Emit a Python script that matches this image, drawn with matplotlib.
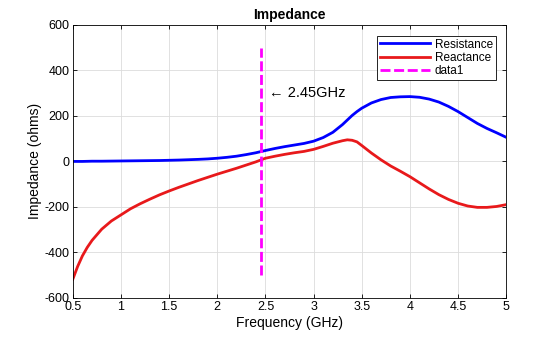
import matplotlib.pyplot as plt

plt.rcParams['font.family'] = ['Liberation Sans', 'DejaVu Sans']
plt.rcParams['axes.unicode_minus'] = False

# frequency samples (GHz) and impedance parts (ohms)
freq = [0.5, 0.55, 0.6, 0.65, 0.7, 0.8, 0.9, 1.0, 1.1, 1.2, 1.3, 1.4, 1.5,
        1.6, 1.7, 1.8, 1.9, 2.0, 2.1, 2.2, 2.3, 2.4, 2.5, 2.6, 2.7, 2.8,
        2.9, 3.0, 3.1, 3.2, 3.3, 3.35, 3.4, 3.45, 3.5, 3.6, 3.7, 3.8, 3.9,
        4.0, 4.1, 4.2, 4.3, 4.4, 4.5, 4.6, 4.7, 4.8, 4.9, 5.0]
resistance = [0, 0, 0, 0.5, 1, 1, 1.5, 2, 2.5, 3, 3.5, 4, 5,
              6, 7.5, 9, 11, 14, 18, 23, 30, 38, 48, 57, 65, 72,
              79, 89, 105, 128, 162, 182, 202, 219, 234, 257, 272, 281, 284,
              285, 282, 274, 261, 242, 219, 193, 167, 145, 126, 106]
reactance = [-518, -462, -415, -378, -347, -298, -262, -235, -208, -186,
             -166, -147, -130, -114, -99, -84, -70, -56, -43, -30, -16, -2,
             14, 23, 31, 38, 44, 53, 66, 80, 91, 95, 93, 86, 70, 37, 7, -20,
             -43, -67, -94, -121, -146, -167, -184, -196, -202, -202, -198,
             -190]

marker_freq = 2.45
marker_span = [-500, 500]

fig = plt.figure(figsize=(5.6, 3.37), dpi=100)
ax = fig.add_axes([0.130, 0.116, 0.774, 0.810])

ax.plot(freq, resistance, color='#0000ff', lw=2, label='Resistance')
ax.plot(freq, reactance, color='#e8191b', lw=2, label='Reactance')
ax.plot([marker_freq, marker_freq], marker_span, color='#ff00ff', lw=2,
        ls=(0, (3.6, 1.3)), label='data1')
ax.text(marker_freq + 0.09, 300, '\u2190 2.45GHz', fontsize=10.5,
        va='center', ha='left')

ax.set_xlim(0.5, 5)
ax.set_ylim(-600, 600)
ax.set_xticks([0.5, 1, 1.5, 2, 2.5, 3, 3.5, 4, 4.5, 5])
ax.set_xticklabels(['0.5', '1', '1.5', '2', '2.5', '3', '3.5', '4', '4.5', '5'])
ax.set_yticks(range(-600, 601, 200))
ax.grid(True, color='#dcdcdc', lw=0.6)
ax.set_axisbelow(True)
ax.tick_params(direction='in', top=True, right=True, labelsize=9, length=3,
               width=0.6, pad=2.5)
for s in ax.spines.values():
    s.set_linewidth(0.6)

ax.set_xlabel('Frequency (GHz)', fontsize=10, labelpad=2)
ax.set_ylabel('Impedance (ohms)', fontsize=10, labelpad=2)
ax.set_title('Impedance', fontsize=10, fontweight='bold', pad=4)

leg = ax.legend(loc='upper right', fontsize=8.5, fancybox=False,
                framealpha=1, edgecolor='black', borderpad=0.25,
                labelspacing=0.1, handlelength=4.2, handletextpad=0.4,
                borderaxespad=0.9)
leg.get_frame().set_linewidth(0.6)

fig.savefig('out.png', dpi=100)
